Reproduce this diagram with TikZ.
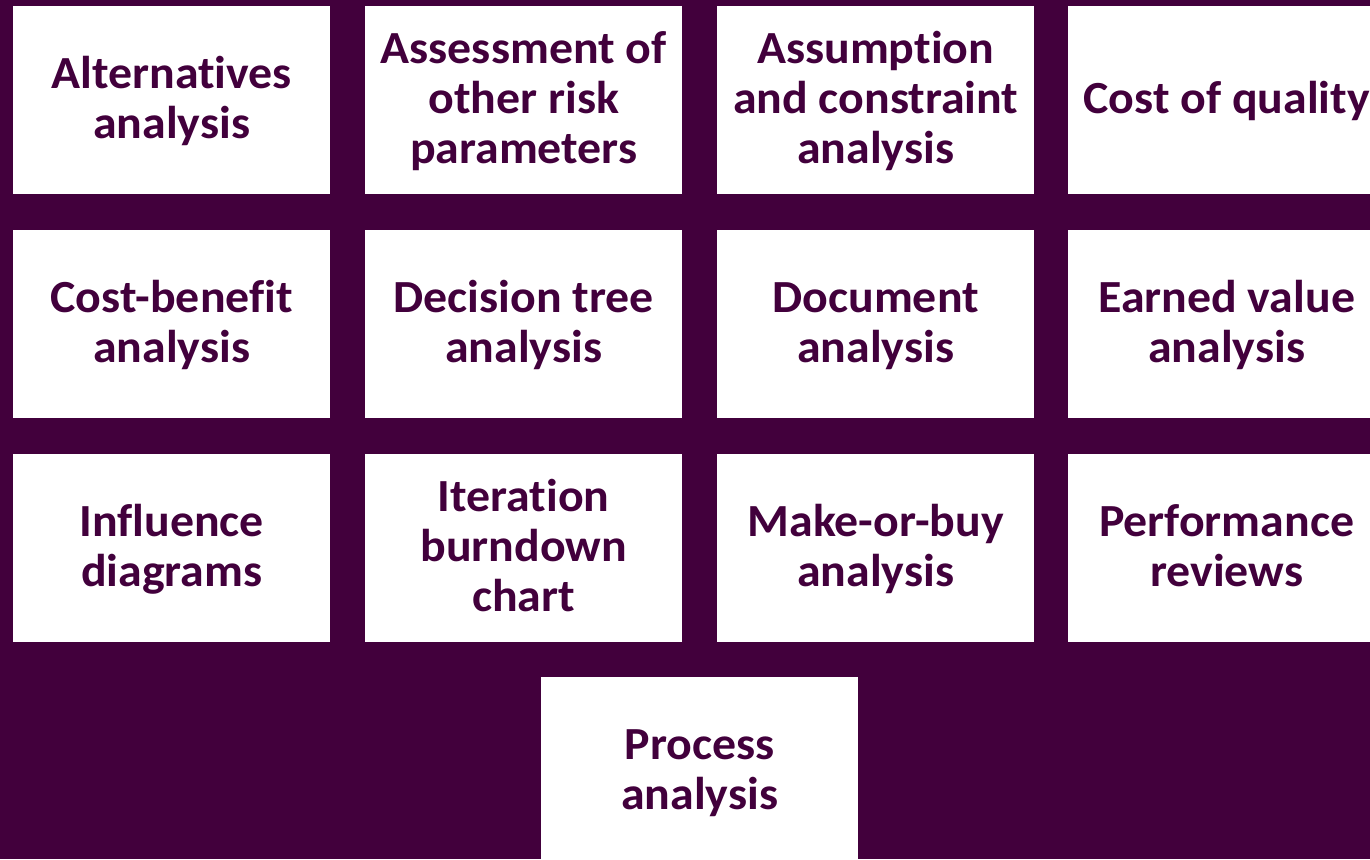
\documentclass[tikz,border=0pt]{standalone}
\usepackage{fontspec}
\setmainfont{Carlito}[Ligatures={NoCommon},FakeStretch=1.04]
\definecolor{bgpurple}{RGB}{66,0,60}
\newcommand\cellstrut{\vrule height38pt depth12pt width0pt}
\begin{document}
\begin{tikzpicture}[x=1pt,y=-1pt,
  cell/.style={fill=white, draw=none, anchor=north west, inner sep=0pt,
    minimum width=317pt, minimum height=188pt, text width=317pt, align=flush center,
    text=bgpurple, font=\fontsize{46}{50}\selectfont\bfseries,
    execute at begin node=\cellstrut, execute at end node=\cellstrut}]
\fill[bgpurple] (0,0) rectangle (1370,859);
\useasboundingbox (0,0) rectangle (1370,859);
\node[cell] (a1) at (13,6) {Alternatives\\analysis};
\node[cell] (a2) at (365,6) {Assessment of\\other risk\\parameters};
\node[cell] (a3) at (717,6) {Assumption\\and constraint\\analysis};
\node[cell] (a4) at (1068,6) {Cost of quality};
\node[cell] (b1) at (13,230) {Cost-benefit\\analysis};
\node[cell] (b2) at (365,230) {Decision tree\\analysis};
\node[cell] (b3) at (717,230) {Document\\analysis};
\node[cell] (b4) at (1068,230) {Earned value\\analysis};
\node[cell] (c1) at (13,454) {Influence\\diagrams};
\node[cell] (c2) at (365,454) {Iteration\\burndown\\chart};
\node[cell] (c3) at (717,454) {Make-or-buy\\analysis};
\node[cell] (c4) at (1068,454) {Performance\\reviews};
\begin{scope}
\clip (0,0) rectangle (1370,859);
\node[cell] (d2) at (541,677) {Process\\analysis};
\end{scope}
\end{tikzpicture}
\end{document}
